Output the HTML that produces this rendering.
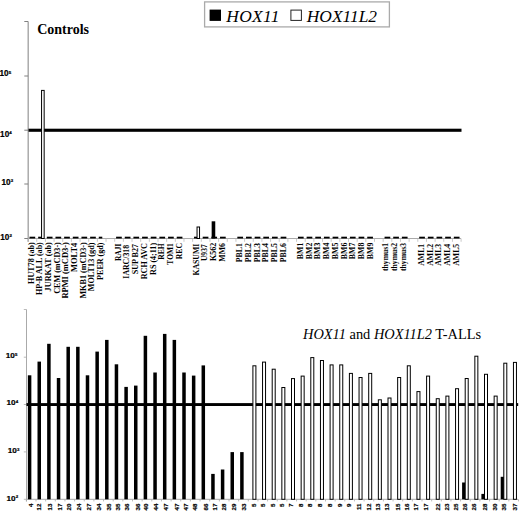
<!DOCTYPE html>
<html><head><meta charset="utf-8"><style>
html,body{margin:0;padding:0;background:#fff;}
body{width:520px;height:511px;overflow:hidden;}
svg{display:block;}
.tl{font-family:"Liberation Serif",serif;font-weight:bold;font-size:7.6px;text-anchor:end;}
.bl{font-family:"Liberation Sans",sans-serif;font-weight:bold;font-size:6.2px;text-anchor:end;stroke:#000;stroke-width:0.2px;}
.yl{font-family:"Liberation Sans",sans-serif;font-weight:bold;stroke:#000;stroke-width:0.2px;}
</style></head><body>
<svg width="520" height="511" viewBox="0 0 520 511">
<rect width="520" height="511" fill="#fff"/>
<line x1="28.15" y1="21.5" x2="28.15" y2="241.8" stroke="#808080" stroke-width="1"/>
<line x1="24.3" y1="21.5" x2="28.15" y2="21.5" stroke="#808080" stroke-width="1"/>
<line x1="24.3" y1="76.0" x2="28.15" y2="76.0" stroke="#808080" stroke-width="1"/>
<line x1="24.3" y1="130.2" x2="28.15" y2="130.2" stroke="#808080" stroke-width="1"/>
<line x1="24.3" y1="184.0" x2="28.15" y2="184.0" stroke="#808080" stroke-width="1"/>
<line x1="24.3" y1="238.5" x2="28.15" y2="238.5" stroke="#808080" stroke-width="1"/>
<line x1="28.15" y1="238.5" x2="461" y2="238.5" stroke="#aaa" stroke-width="1"/>
<line x1="28.10" y1="238.5" x2="28.10" y2="241.8" stroke="#bbb" stroke-width="0.8"/>
<line x1="36.76" y1="238.5" x2="36.76" y2="241.8" stroke="#bbb" stroke-width="0.8"/>
<line x1="45.42" y1="238.5" x2="45.42" y2="241.8" stroke="#bbb" stroke-width="0.8"/>
<line x1="54.08" y1="238.5" x2="54.08" y2="241.8" stroke="#bbb" stroke-width="0.8"/>
<line x1="62.74" y1="238.5" x2="62.74" y2="241.8" stroke="#bbb" stroke-width="0.8"/>
<line x1="71.40" y1="238.5" x2="71.40" y2="241.8" stroke="#bbb" stroke-width="0.8"/>
<line x1="80.06" y1="238.5" x2="80.06" y2="241.8" stroke="#bbb" stroke-width="0.8"/>
<line x1="88.72" y1="238.5" x2="88.72" y2="241.8" stroke="#bbb" stroke-width="0.8"/>
<line x1="97.38" y1="238.5" x2="97.38" y2="241.8" stroke="#bbb" stroke-width="0.8"/>
<line x1="106.04" y1="238.5" x2="106.04" y2="241.8" stroke="#bbb" stroke-width="0.8"/>
<line x1="114.70" y1="238.5" x2="114.70" y2="241.8" stroke="#bbb" stroke-width="0.8"/>
<line x1="123.36" y1="238.5" x2="123.36" y2="241.8" stroke="#bbb" stroke-width="0.8"/>
<line x1="132.02" y1="238.5" x2="132.02" y2="241.8" stroke="#bbb" stroke-width="0.8"/>
<line x1="140.68" y1="238.5" x2="140.68" y2="241.8" stroke="#bbb" stroke-width="0.8"/>
<line x1="149.34" y1="238.5" x2="149.34" y2="241.8" stroke="#bbb" stroke-width="0.8"/>
<line x1="158.00" y1="238.5" x2="158.00" y2="241.8" stroke="#bbb" stroke-width="0.8"/>
<line x1="166.66" y1="238.5" x2="166.66" y2="241.8" stroke="#bbb" stroke-width="0.8"/>
<line x1="175.32" y1="238.5" x2="175.32" y2="241.8" stroke="#bbb" stroke-width="0.8"/>
<line x1="183.98" y1="238.5" x2="183.98" y2="241.8" stroke="#bbb" stroke-width="0.8"/>
<line x1="192.64" y1="238.5" x2="192.64" y2="241.8" stroke="#bbb" stroke-width="0.8"/>
<line x1="201.30" y1="238.5" x2="201.30" y2="241.8" stroke="#bbb" stroke-width="0.8"/>
<line x1="209.96" y1="238.5" x2="209.96" y2="241.8" stroke="#bbb" stroke-width="0.8"/>
<line x1="218.62" y1="238.5" x2="218.62" y2="241.8" stroke="#bbb" stroke-width="0.8"/>
<line x1="227.28" y1="238.5" x2="227.28" y2="241.8" stroke="#bbb" stroke-width="0.8"/>
<line x1="235.94" y1="238.5" x2="235.94" y2="241.8" stroke="#bbb" stroke-width="0.8"/>
<line x1="244.60" y1="238.5" x2="244.60" y2="241.8" stroke="#bbb" stroke-width="0.8"/>
<line x1="253.26" y1="238.5" x2="253.26" y2="241.8" stroke="#bbb" stroke-width="0.8"/>
<line x1="261.92" y1="238.5" x2="261.92" y2="241.8" stroke="#bbb" stroke-width="0.8"/>
<line x1="270.58" y1="238.5" x2="270.58" y2="241.8" stroke="#bbb" stroke-width="0.8"/>
<line x1="279.24" y1="238.5" x2="279.24" y2="241.8" stroke="#bbb" stroke-width="0.8"/>
<line x1="287.90" y1="238.5" x2="287.90" y2="241.8" stroke="#bbb" stroke-width="0.8"/>
<line x1="296.56" y1="238.5" x2="296.56" y2="241.8" stroke="#bbb" stroke-width="0.8"/>
<line x1="305.22" y1="238.5" x2="305.22" y2="241.8" stroke="#bbb" stroke-width="0.8"/>
<line x1="313.88" y1="238.5" x2="313.88" y2="241.8" stroke="#bbb" stroke-width="0.8"/>
<line x1="322.54" y1="238.5" x2="322.54" y2="241.8" stroke="#bbb" stroke-width="0.8"/>
<line x1="331.20" y1="238.5" x2="331.20" y2="241.8" stroke="#bbb" stroke-width="0.8"/>
<line x1="339.86" y1="238.5" x2="339.86" y2="241.8" stroke="#bbb" stroke-width="0.8"/>
<line x1="348.52" y1="238.5" x2="348.52" y2="241.8" stroke="#bbb" stroke-width="0.8"/>
<line x1="357.18" y1="238.5" x2="357.18" y2="241.8" stroke="#bbb" stroke-width="0.8"/>
<line x1="365.84" y1="238.5" x2="365.84" y2="241.8" stroke="#bbb" stroke-width="0.8"/>
<line x1="374.50" y1="238.5" x2="374.50" y2="241.8" stroke="#bbb" stroke-width="0.8"/>
<line x1="383.16" y1="238.5" x2="383.16" y2="241.8" stroke="#bbb" stroke-width="0.8"/>
<line x1="391.82" y1="238.5" x2="391.82" y2="241.8" stroke="#bbb" stroke-width="0.8"/>
<line x1="400.48" y1="238.5" x2="400.48" y2="241.8" stroke="#bbb" stroke-width="0.8"/>
<line x1="409.14" y1="238.5" x2="409.14" y2="241.8" stroke="#bbb" stroke-width="0.8"/>
<line x1="417.80" y1="238.5" x2="417.80" y2="241.8" stroke="#bbb" stroke-width="0.8"/>
<line x1="426.46" y1="238.5" x2="426.46" y2="241.8" stroke="#bbb" stroke-width="0.8"/>
<line x1="435.12" y1="238.5" x2="435.12" y2="241.8" stroke="#bbb" stroke-width="0.8"/>
<line x1="443.78" y1="238.5" x2="443.78" y2="241.8" stroke="#bbb" stroke-width="0.8"/>
<line x1="452.44" y1="238.5" x2="452.44" y2="241.8" stroke="#bbb" stroke-width="0.8"/>
<line x1="461.10" y1="238.5" x2="461.10" y2="241.8" stroke="#bbb" stroke-width="0.8"/>
<rect x="29.50" y="236.7" width="5.7" height="1.8" fill="#000"/>
<rect x="38.16" y="236.7" width="5.7" height="1.8" fill="#000"/>
<rect x="46.82" y="236.7" width="5.7" height="1.8" fill="#000"/>
<rect x="55.48" y="236.7" width="5.7" height="1.8" fill="#000"/>
<rect x="64.14" y="236.7" width="5.7" height="1.8" fill="#000"/>
<rect x="72.80" y="236.7" width="5.7" height="1.8" fill="#000"/>
<rect x="81.46" y="236.7" width="5.7" height="1.8" fill="#000"/>
<rect x="90.12" y="236.7" width="5.7" height="1.8" fill="#000"/>
<rect x="98.78" y="236.7" width="3.5" height="1.8" fill="#000"/>
<rect x="116.10" y="236.7" width="5.7" height="1.8" fill="#000"/>
<rect x="124.76" y="236.7" width="5.7" height="1.8" fill="#000"/>
<rect x="133.42" y="236.7" width="5.7" height="1.8" fill="#000"/>
<rect x="142.08" y="236.7" width="5.7" height="1.8" fill="#000"/>
<rect x="150.74" y="236.7" width="5.7" height="1.8" fill="#000"/>
<rect x="159.40" y="236.7" width="5.7" height="1.8" fill="#000"/>
<rect x="168.06" y="236.7" width="5.7" height="1.8" fill="#000"/>
<rect x="176.72" y="236.7" width="5.7" height="1.8" fill="#000"/>
<rect x="194.04" y="236.7" width="5.7" height="1.8" fill="#000"/>
<rect x="202.70" y="236.7" width="5.7" height="1.8" fill="#000"/>
<rect x="211.36" y="236.7" width="5.7" height="1.8" fill="#000"/>
<rect x="220.02" y="236.7" width="5.7" height="1.8" fill="#000"/>
<rect x="237.34" y="236.7" width="5.7" height="1.8" fill="#000"/>
<rect x="246.00" y="236.7" width="5.7" height="1.8" fill="#000"/>
<rect x="254.66" y="236.7" width="5.7" height="1.8" fill="#000"/>
<rect x="263.32" y="236.7" width="5.7" height="1.8" fill="#000"/>
<rect x="271.98" y="236.7" width="5.7" height="1.8" fill="#000"/>
<rect x="280.64" y="236.7" width="5.7" height="1.8" fill="#000"/>
<rect x="297.96" y="236.7" width="5.7" height="1.8" fill="#000"/>
<rect x="306.62" y="236.7" width="5.7" height="1.8" fill="#000"/>
<rect x="315.28" y="236.7" width="5.7" height="1.8" fill="#000"/>
<rect x="323.94" y="236.7" width="5.7" height="1.8" fill="#000"/>
<rect x="332.60" y="236.7" width="5.7" height="1.8" fill="#000"/>
<rect x="341.26" y="236.7" width="5.7" height="1.8" fill="#000"/>
<rect x="349.92" y="236.7" width="5.7" height="1.8" fill="#000"/>
<rect x="358.58" y="236.7" width="5.7" height="1.8" fill="#000"/>
<rect x="367.24" y="236.7" width="5.7" height="1.8" fill="#000"/>
<rect x="384.56" y="236.7" width="5.7" height="1.8" fill="#000"/>
<rect x="393.22" y="236.7" width="5.7" height="1.8" fill="#000"/>
<rect x="401.88" y="236.7" width="5.7" height="1.8" fill="#000"/>
<rect x="419.20" y="236.7" width="5.7" height="1.8" fill="#000"/>
<rect x="427.86" y="236.7" width="5.7" height="1.8" fill="#000"/>
<rect x="436.52" y="236.7" width="5.7" height="1.8" fill="#000"/>
<rect x="445.18" y="236.7" width="5.7" height="1.8" fill="#000"/>
<rect x="453.84" y="236.7" width="5.7" height="1.8" fill="#000"/>
<rect x="28.5" y="128.7" width="433" height="3.1" fill="#000"/>
<rect x="41.56" y="90.40" width="2.60" height="148.10" fill="#fff" stroke="#000" stroke-width="1.0"/>
<rect x="197.04" y="227.00" width="2.50" height="11.50" fill="#fff" stroke="#000" stroke-width="1.0"/>
<rect x="211.66" y="221.30" width="3.60" height="17.20" fill="#000"/>
<text class="tl" transform="translate(33.60,242.20) rotate(-90) scale(1.068,1)">HUT78 (ab)</text>
<text class="tl" transform="translate(42.27,242.20) rotate(-90) scale(1.060,1)">HP-B ALL (ab)</text>
<text class="tl" transform="translate(50.95,242.20) rotate(-90) scale(1.081,1)">JURKAT (ab)</text>
<text class="tl" transform="translate(59.63,242.20) rotate(-90) scale(1.068,1)">CEM (mCD3-)</text>
<text class="tl" transform="translate(68.30,242.20) rotate(-90) scale(1.111,1)">RPMI (mCD3-)</text>
<text class="tl" transform="translate(76.98,242.70) rotate(-90) scale(1.113,1)">MOLT4</text>
<text class="tl" transform="translate(85.65,242.20) rotate(-90) scale(1.075,1)">MKB1 (mCD3-)</text>
<text class="tl" transform="translate(94.33,242.50) rotate(-90) scale(1.084,1)">MOLT13 (gd)</text>
<text class="tl" transform="translate(103.00,242.50) rotate(-90) scale(1.061,1)">PEER (gd)</text>
<text class="tl" transform="translate(120.80,243.70) rotate(-90) scale(0.981,1)">RAJI</text>
<text class="tl" transform="translate(129.47,244.90) rotate(-90) scale(1.026,1)">IARC/318</text>
<text class="tl" transform="translate(138.15,243.90) rotate(-90) scale(1.070,1)">SUP B27</text>
<text class="tl" transform="translate(146.83,243.10) rotate(-90) scale(1.069,1)">RCH AVC</text>
<text class="tl" transform="translate(155.50,242.90) rotate(-90) scale(1.063,1)">RS (4;11)</text>
<text class="tl" transform="translate(164.17,243.40) rotate(-90) scale(0.996,1)">REH</text>
<text class="tl" transform="translate(172.85,243.40) rotate(-90) scale(0.976,1)">TOM1</text>
<text class="tl" transform="translate(181.53,243.10) rotate(-90) scale(1.003,1)">REC</text>
<text class="tl" transform="translate(198.68,243.70) rotate(-90) scale(1.021,1)">KASUMI</text>
<text class="tl" transform="translate(207.35,244.30) rotate(-90) scale(0.995,1)">U937</text>
<text class="tl" transform="translate(216.03,242.70) rotate(-90) scale(1.063,1)">K562</text>
<text class="tl" transform="translate(224.70,243.10) rotate(-90) scale(1.025,1)">MM6</text>
<text class="tl" transform="translate(242.20,243.10) rotate(-90) scale(1.028,1)">PBL1</text>
<text class="tl" transform="translate(250.88,243.10) rotate(-90) scale(1.028,1)">PBL2</text>
<text class="tl" transform="translate(259.55,243.10) rotate(-90) scale(1.028,1)">PBL3</text>
<text class="tl" transform="translate(268.23,243.10) rotate(-90) scale(1.028,1)">PBL4</text>
<text class="tl" transform="translate(276.90,243.10) rotate(-90) scale(1.028,1)">PBL5</text>
<text class="tl" transform="translate(285.58,243.10) rotate(-90) scale(1.028,1)">PBL6</text>
<text class="tl" transform="translate(303.12,242.70) rotate(-90) scale(1.029,1)">BM1</text>
<text class="tl" transform="translate(311.80,242.70) rotate(-90) scale(1.029,1)">BM2</text>
<text class="tl" transform="translate(320.48,242.70) rotate(-90) scale(1.029,1)">BM3</text>
<text class="tl" transform="translate(329.15,242.70) rotate(-90) scale(1.029,1)">BM4</text>
<text class="tl" transform="translate(337.82,242.70) rotate(-90) scale(1.029,1)">BM5</text>
<text class="tl" transform="translate(346.50,242.70) rotate(-90) scale(1.029,1)">BM6</text>
<text class="tl" transform="translate(355.18,242.70) rotate(-90) scale(1.029,1)">BM7</text>
<text class="tl" transform="translate(363.85,242.70) rotate(-90) scale(1.029,1)">BM8</text>
<text class="tl" transform="translate(372.53,242.70) rotate(-90) scale(1.029,1)">BM9</text>
<text class="tl" transform="translate(387.52,242.90) rotate(-90) scale(1.008,1)">thymus1</text>
<text class="tl" transform="translate(397.10,242.90) rotate(-90) scale(1.008,1)">thymus2</text>
<text class="tl" transform="translate(406.18,242.90) rotate(-90) scale(1.008,1)">thymus3</text>
<text class="tl" transform="translate(423.98,243.80) rotate(-90) scale(1.022,1)">AML1</text>
<text class="tl" transform="translate(432.65,243.80) rotate(-90) scale(1.022,1)">AML2</text>
<text class="tl" transform="translate(441.32,243.80) rotate(-90) scale(1.022,1)">AML3</text>
<text class="tl" transform="translate(450.00,243.80) rotate(-90) scale(1.022,1)">AML4</text>
<text class="tl" transform="translate(458.68,243.80) rotate(-90) scale(1.022,1)">AML5</text>
<g transform="translate(-0.50,76.30) scale(1,1.0)"><text class="yl" x="0" y="0" font-size="8.2">10</text><text class="yl" x="9.22" y="-2.6" font-size="4.4">5</text></g>
<g transform="translate(0.10,136.70) scale(1,1.0)"><text class="yl" x="0" y="0" font-size="8.2">10</text><text class="yl" x="9.22" y="-2.6" font-size="4.4">4</text></g>
<g transform="translate(1.50,185.00) scale(1,1.0)"><text class="yl" x="0" y="0" font-size="8.2">10</text><text class="yl" x="9.22" y="-2.6" font-size="4.4">3</text></g>
<g transform="translate(0.30,239.50) scale(1,1.0)"><text class="yl" x="0" y="0" font-size="8.2">10</text><text class="yl" x="9.22" y="-2.6" font-size="4.4">2</text></g>
<text x="37.2" y="33.9" font-family="Liberation Serif" font-weight="bold" font-size="14">Controls</text>
<rect x="204.6" y="1.9" width="184.8" height="25" fill="#fff" stroke="#aaa" stroke-width="1.3"/>
<rect x="209.6" y="9.6" width="11.4" height="11.3" fill="#000"/>
<text x="226.3" y="21.9" font-family="Liberation Serif" font-style="italic" font-size="17.4" letter-spacing="0.3">HOX11</text>
<rect x="290.9" y="10.1" width="10.5" height="10.3" fill="#fff" stroke="#222" stroke-width="1"/>
<text x="306.8" y="21.9" font-family="Liberation Serif" font-style="italic" font-size="17.4">HOX11L2</text>
<line x1="26.5" y1="309.5" x2="26.5" y2="501.4" stroke="#aaa" stroke-width="1"/>
<line x1="23.8" y1="309.5" x2="26.5" y2="309.5" stroke="#aaa" stroke-width="0.8"/>
<line x1="23.8" y1="357.2" x2="26.5" y2="357.2" stroke="#aaa" stroke-width="0.8"/>
<line x1="23.8" y1="404.5" x2="26.5" y2="404.5" stroke="#aaa" stroke-width="0.8"/>
<line x1="23.8" y1="451.9" x2="26.5" y2="451.9" stroke="#aaa" stroke-width="0.8"/>
<line x1="23.8" y1="499.3" x2="26.5" y2="499.3" stroke="#aaa" stroke-width="0.8"/>
<line x1="26.5" y1="499.3" x2="518" y2="499.3" stroke="#aaa" stroke-width="1"/>
<line x1="26.35" y1="499.3" x2="26.35" y2="501.4" stroke="#aaa" stroke-width="0.8"/>
<line x1="36.00" y1="499.3" x2="36.00" y2="501.4" stroke="#aaa" stroke-width="0.8"/>
<line x1="45.65" y1="499.3" x2="45.65" y2="501.4" stroke="#aaa" stroke-width="0.8"/>
<line x1="55.30" y1="499.3" x2="55.30" y2="501.4" stroke="#aaa" stroke-width="0.8"/>
<line x1="64.95" y1="499.3" x2="64.95" y2="501.4" stroke="#aaa" stroke-width="0.8"/>
<line x1="74.60" y1="499.3" x2="74.60" y2="501.4" stroke="#aaa" stroke-width="0.8"/>
<line x1="84.25" y1="499.3" x2="84.25" y2="501.4" stroke="#aaa" stroke-width="0.8"/>
<line x1="93.90" y1="499.3" x2="93.90" y2="501.4" stroke="#aaa" stroke-width="0.8"/>
<line x1="103.55" y1="499.3" x2="103.55" y2="501.4" stroke="#aaa" stroke-width="0.8"/>
<line x1="113.20" y1="499.3" x2="113.20" y2="501.4" stroke="#aaa" stroke-width="0.8"/>
<line x1="122.85" y1="499.3" x2="122.85" y2="501.4" stroke="#aaa" stroke-width="0.8"/>
<line x1="132.50" y1="499.3" x2="132.50" y2="501.4" stroke="#aaa" stroke-width="0.8"/>
<line x1="142.15" y1="499.3" x2="142.15" y2="501.4" stroke="#aaa" stroke-width="0.8"/>
<line x1="151.80" y1="499.3" x2="151.80" y2="501.4" stroke="#aaa" stroke-width="0.8"/>
<line x1="161.45" y1="499.3" x2="161.45" y2="501.4" stroke="#aaa" stroke-width="0.8"/>
<line x1="171.10" y1="499.3" x2="171.10" y2="501.4" stroke="#aaa" stroke-width="0.8"/>
<line x1="180.75" y1="499.3" x2="180.75" y2="501.4" stroke="#aaa" stroke-width="0.8"/>
<line x1="190.40" y1="499.3" x2="190.40" y2="501.4" stroke="#aaa" stroke-width="0.8"/>
<line x1="200.05" y1="499.3" x2="200.05" y2="501.4" stroke="#aaa" stroke-width="0.8"/>
<line x1="209.70" y1="499.3" x2="209.70" y2="501.4" stroke="#aaa" stroke-width="0.8"/>
<line x1="219.35" y1="499.3" x2="219.35" y2="501.4" stroke="#aaa" stroke-width="0.8"/>
<line x1="229.00" y1="499.3" x2="229.00" y2="501.4" stroke="#aaa" stroke-width="0.8"/>
<line x1="238.65" y1="499.3" x2="238.65" y2="501.4" stroke="#aaa" stroke-width="0.8"/>
<line x1="248.30" y1="499.3" x2="248.30" y2="501.4" stroke="#aaa" stroke-width="0.8"/>
<line x1="257.95" y1="499.3" x2="257.95" y2="501.4" stroke="#aaa" stroke-width="0.8"/>
<line x1="267.60" y1="499.3" x2="267.60" y2="501.4" stroke="#aaa" stroke-width="0.8"/>
<line x1="277.25" y1="499.3" x2="277.25" y2="501.4" stroke="#aaa" stroke-width="0.8"/>
<line x1="286.90" y1="499.3" x2="286.90" y2="501.4" stroke="#aaa" stroke-width="0.8"/>
<line x1="296.55" y1="499.3" x2="296.55" y2="501.4" stroke="#aaa" stroke-width="0.8"/>
<line x1="306.20" y1="499.3" x2="306.20" y2="501.4" stroke="#aaa" stroke-width="0.8"/>
<line x1="315.85" y1="499.3" x2="315.85" y2="501.4" stroke="#aaa" stroke-width="0.8"/>
<line x1="325.50" y1="499.3" x2="325.50" y2="501.4" stroke="#aaa" stroke-width="0.8"/>
<line x1="335.15" y1="499.3" x2="335.15" y2="501.4" stroke="#aaa" stroke-width="0.8"/>
<line x1="344.80" y1="499.3" x2="344.80" y2="501.4" stroke="#aaa" stroke-width="0.8"/>
<line x1="354.45" y1="499.3" x2="354.45" y2="501.4" stroke="#aaa" stroke-width="0.8"/>
<line x1="364.10" y1="499.3" x2="364.10" y2="501.4" stroke="#aaa" stroke-width="0.8"/>
<line x1="373.75" y1="499.3" x2="373.75" y2="501.4" stroke="#aaa" stroke-width="0.8"/>
<line x1="383.40" y1="499.3" x2="383.40" y2="501.4" stroke="#aaa" stroke-width="0.8"/>
<line x1="393.05" y1="499.3" x2="393.05" y2="501.4" stroke="#aaa" stroke-width="0.8"/>
<line x1="402.70" y1="499.3" x2="402.70" y2="501.4" stroke="#aaa" stroke-width="0.8"/>
<line x1="412.35" y1="499.3" x2="412.35" y2="501.4" stroke="#aaa" stroke-width="0.8"/>
<line x1="422.00" y1="499.3" x2="422.00" y2="501.4" stroke="#aaa" stroke-width="0.8"/>
<line x1="431.65" y1="499.3" x2="431.65" y2="501.4" stroke="#aaa" stroke-width="0.8"/>
<line x1="441.30" y1="499.3" x2="441.30" y2="501.4" stroke="#aaa" stroke-width="0.8"/>
<line x1="450.95" y1="499.3" x2="450.95" y2="501.4" stroke="#aaa" stroke-width="0.8"/>
<line x1="460.60" y1="499.3" x2="460.60" y2="501.4" stroke="#aaa" stroke-width="0.8"/>
<line x1="470.25" y1="499.3" x2="470.25" y2="501.4" stroke="#aaa" stroke-width="0.8"/>
<line x1="479.90" y1="499.3" x2="479.90" y2="501.4" stroke="#aaa" stroke-width="0.8"/>
<line x1="489.55" y1="499.3" x2="489.55" y2="501.4" stroke="#aaa" stroke-width="0.8"/>
<line x1="499.20" y1="499.3" x2="499.20" y2="501.4" stroke="#aaa" stroke-width="0.8"/>
<line x1="508.85" y1="499.3" x2="508.85" y2="501.4" stroke="#aaa" stroke-width="0.8"/>
<line x1="518.50" y1="499.3" x2="518.50" y2="501.4" stroke="#aaa" stroke-width="0.8"/>
<rect x="26.5" y="403.1" width="491.7" height="2.9" fill="#000"/>
<rect x="27.85" y="375.30" width="3.50" height="124.00" fill="#000"/>
<rect x="37.50" y="361.60" width="3.50" height="137.70" fill="#000"/>
<rect x="47.15" y="343.80" width="3.50" height="155.50" fill="#000"/>
<rect x="56.80" y="378.00" width="3.50" height="121.30" fill="#000"/>
<rect x="66.45" y="346.80" width="3.50" height="152.50" fill="#000"/>
<rect x="76.10" y="346.80" width="3.50" height="152.50" fill="#000"/>
<rect x="85.75" y="375.30" width="3.50" height="124.00" fill="#000"/>
<rect x="95.40" y="351.60" width="3.50" height="147.70" fill="#000"/>
<rect x="105.05" y="339.90" width="3.50" height="159.40" fill="#000"/>
<rect x="114.70" y="364.30" width="3.50" height="135.00" fill="#000"/>
<rect x="124.35" y="386.90" width="3.50" height="112.40" fill="#000"/>
<rect x="134.00" y="385.60" width="3.50" height="113.70" fill="#000"/>
<rect x="143.65" y="335.80" width="3.50" height="163.50" fill="#000"/>
<rect x="153.30" y="372.50" width="3.50" height="126.80" fill="#000"/>
<rect x="162.95" y="333.90" width="3.50" height="165.40" fill="#000"/>
<rect x="172.60" y="339.90" width="3.50" height="159.40" fill="#000"/>
<rect x="182.25" y="372.50" width="3.50" height="126.80" fill="#000"/>
<rect x="191.90" y="375.60" width="3.50" height="123.70" fill="#000"/>
<rect x="201.55" y="365.40" width="3.50" height="133.90" fill="#000"/>
<rect x="211.20" y="473.90" width="3.50" height="25.40" fill="#000"/>
<rect x="220.85" y="469.50" width="3.50" height="29.80" fill="#000"/>
<rect x="230.50" y="452.10" width="3.50" height="47.20" fill="#000"/>
<rect x="240.15" y="452.10" width="3.50" height="47.20" fill="#000"/>
<rect x="462.10" y="482.50" width="3.50" height="16.80" fill="#000"/>
<rect x="481.40" y="493.90" width="3.50" height="5.40" fill="#000"/>
<rect x="500.70" y="476.80" width="3.50" height="22.50" fill="#000"/>
<rect x="252.90" y="365.80" width="3.00" height="133.50" fill="#fff" stroke="#000" stroke-width="1.0"/>
<rect x="262.55" y="362.10" width="3.00" height="137.20" fill="#fff" stroke="#000" stroke-width="1.0"/>
<rect x="272.20" y="369.20" width="3.00" height="130.10" fill="#fff" stroke="#000" stroke-width="1.0"/>
<rect x="281.85" y="387.50" width="3.00" height="111.80" fill="#fff" stroke="#000" stroke-width="1.0"/>
<rect x="291.50" y="378.60" width="3.00" height="120.70" fill="#fff" stroke="#000" stroke-width="1.0"/>
<rect x="301.15" y="376.10" width="3.00" height="123.20" fill="#fff" stroke="#000" stroke-width="1.0"/>
<rect x="310.80" y="357.60" width="3.00" height="141.70" fill="#fff" stroke="#000" stroke-width="1.0"/>
<rect x="320.45" y="360.50" width="3.00" height="138.80" fill="#fff" stroke="#000" stroke-width="1.0"/>
<rect x="330.10" y="364.90" width="3.00" height="134.40" fill="#fff" stroke="#000" stroke-width="1.0"/>
<rect x="339.75" y="364.90" width="3.00" height="134.40" fill="#fff" stroke="#000" stroke-width="1.0"/>
<rect x="349.40" y="373.40" width="3.00" height="125.90" fill="#fff" stroke="#000" stroke-width="1.0"/>
<rect x="359.05" y="377.50" width="3.00" height="121.80" fill="#fff" stroke="#000" stroke-width="1.0"/>
<rect x="368.70" y="373.40" width="3.00" height="125.90" fill="#fff" stroke="#000" stroke-width="1.0"/>
<rect x="378.35" y="399.80" width="3.00" height="99.50" fill="#fff" stroke="#000" stroke-width="1.0"/>
<rect x="388.00" y="398.00" width="3.00" height="101.30" fill="#fff" stroke="#000" stroke-width="1.0"/>
<rect x="397.65" y="377.50" width="3.00" height="121.80" fill="#fff" stroke="#000" stroke-width="1.0"/>
<rect x="407.30" y="365.80" width="3.00" height="133.50" fill="#fff" stroke="#000" stroke-width="1.0"/>
<rect x="416.95" y="391.60" width="3.00" height="107.70" fill="#fff" stroke="#000" stroke-width="1.0"/>
<rect x="426.60" y="376.10" width="3.00" height="123.20" fill="#fff" stroke="#000" stroke-width="1.0"/>
<rect x="436.25" y="398.70" width="3.00" height="100.60" fill="#fff" stroke="#000" stroke-width="1.0"/>
<rect x="445.90" y="396.10" width="3.00" height="103.20" fill="#fff" stroke="#000" stroke-width="1.0"/>
<rect x="455.55" y="388.70" width="3.00" height="110.60" fill="#fff" stroke="#000" stroke-width="1.0"/>
<rect x="465.20" y="378.50" width="3.00" height="120.80" fill="#fff" stroke="#000" stroke-width="1.0"/>
<rect x="474.85" y="356.20" width="3.00" height="143.10" fill="#fff" stroke="#000" stroke-width="1.0"/>
<rect x="484.50" y="374.30" width="3.00" height="125.00" fill="#fff" stroke="#000" stroke-width="1.0"/>
<rect x="494.15" y="396.10" width="3.00" height="103.20" fill="#fff" stroke="#000" stroke-width="1.0"/>
<rect x="503.80" y="363.20" width="3.00" height="136.10" fill="#fff" stroke="#000" stroke-width="1.0"/>
<rect x="513.45" y="362.40" width="3.00" height="136.90" fill="#fff" stroke="#000" stroke-width="1.0"/>
<text class="bl" transform="translate(32.80,503.5) rotate(-90)">4</text>
<text class="bl" transform="translate(41.00,503.5) rotate(-90)">12</text>
<text class="bl" transform="translate(52.25,503.5) rotate(-90)">13</text>
<text class="bl" transform="translate(62.35,503.5) rotate(-90)">17</text>
<text class="bl" transform="translate(71.35,503.5) rotate(-90)">20</text>
<text class="bl" transform="translate(80.80,503.5) rotate(-90)">24</text>
<text class="bl" transform="translate(90.65,503.5) rotate(-90)">27</text>
<text class="bl" transform="translate(100.75,503.5) rotate(-90)">34</text>
<text class="bl" transform="translate(110.75,503.5) rotate(-90)">35</text>
<text class="bl" transform="translate(120.45,503.5) rotate(-90)">35</text>
<text class="bl" transform="translate(129.25,503.5) rotate(-90)">36</text>
<text class="bl" transform="translate(140.45,503.5) rotate(-90)">36</text>
<text class="bl" transform="translate(147.95,503.5) rotate(-90)">40</text>
<text class="bl" transform="translate(157.75,503.5) rotate(-90)">44</text>
<text class="bl" transform="translate(167.55,503.5) rotate(-90)">47</text>
<text class="bl" transform="translate(178.65,503.5) rotate(-90)">47</text>
<text class="bl" transform="translate(188.25,503.5) rotate(-90)">47</text>
<text class="bl" transform="translate(196.95,503.5) rotate(-90)">48</text>
<text class="bl" transform="translate(207.85,503.5) rotate(-90)">66</text>
<text class="bl" transform="translate(216.50,503.5) rotate(-90)">17</text>
<text class="bl" transform="translate(225.90,503.5) rotate(-90)">28</text>
<text class="bl" transform="translate(236.05,503.5) rotate(-90)">29</text>
<text class="bl" transform="translate(245.85,503.5) rotate(-90)">33</text>
<text class="bl" transform="translate(255.65,503.5) rotate(-90)">5</text>
<text class="bl" transform="translate(265.05,503.5) rotate(-90)">5</text>
<text class="bl" transform="translate(274.65,503.5) rotate(-90)">5</text>
<text class="bl" transform="translate(283.85,503.5) rotate(-90)">5</text>
<text class="bl" transform="translate(293.25,503.5) rotate(-90)">7</text>
<text class="bl" transform="translate(302.65,503.5) rotate(-90)">8</text>
<text class="bl" transform="translate(312.25,503.5) rotate(-90)">8</text>
<text class="bl" transform="translate(321.85,503.5) rotate(-90)">8</text>
<text class="bl" transform="translate(331.65,503.5) rotate(-90)">8</text>
<text class="bl" transform="translate(341.65,503.5) rotate(-90)">9</text>
<text class="bl" transform="translate(351.25,503.5) rotate(-90)">9</text>
<text class="bl" transform="translate(360.65,503.5) rotate(-90)">11</text>
<text class="bl" transform="translate(370.65,503.5) rotate(-90)">12</text>
<text class="bl" transform="translate(380.25,503.5) rotate(-90)">13</text>
<text class="bl" transform="translate(389.45,503.5) rotate(-90)">13</text>
<text class="bl" transform="translate(399.75,503.5) rotate(-90)">15</text>
<text class="bl" transform="translate(408.75,503.5) rotate(-90)">16</text>
<text class="bl" transform="translate(417.80,503.5) rotate(-90)">17</text>
<text class="bl" transform="translate(427.70,503.5) rotate(-90)">17</text>
<text class="bl" transform="translate(439.75,503.5) rotate(-90)">22</text>
<text class="bl" transform="translate(449.05,503.5) rotate(-90)">23</text>
<text class="bl" transform="translate(458.35,503.5) rotate(-90)">25</text>
<text class="bl" transform="translate(467.15,503.5) rotate(-90)">26</text>
<text class="bl" transform="translate(476.35,503.5) rotate(-90)">26</text>
<text class="bl" transform="translate(486.75,503.5) rotate(-90)">28</text>
<text class="bl" transform="translate(496.90,503.5) rotate(-90)">30</text>
<text class="bl" transform="translate(506.40,503.5) rotate(-90)">35</text>
<text class="bl" transform="translate(516.50,503.5) rotate(-90)">37</text>
<g transform="translate(5.75,358.10) scale(1,0.92)"><text class="yl" x="0" y="0" font-size="8.2">10</text><text class="yl" x="9.22" y="-2.6" font-size="4.4">5</text></g>
<g transform="translate(6.55,405.20) scale(1,0.92)"><text class="yl" x="0" y="0" font-size="8.2">10</text><text class="yl" x="9.22" y="-2.6" font-size="4.4">4</text></g>
<g transform="translate(7.75,453.10) scale(1,0.92)"><text class="yl" x="0" y="0" font-size="8.2">10</text><text class="yl" x="9.22" y="-2.6" font-size="4.4">3</text></g>
<g transform="translate(6.55,500.80) scale(1,0.92)"><text class="yl" x="0" y="0" font-size="8.2">10</text><text class="yl" x="9.22" y="-2.6" font-size="4.4">2</text></g>
<text x="303" y="339.0" font-family="Liberation Serif" font-size="14.4"><tspan font-style="italic">HOX11</tspan> and <tspan font-style="italic">HOX11L2</tspan> T-ALLs</text>
</svg>
</body></html>
